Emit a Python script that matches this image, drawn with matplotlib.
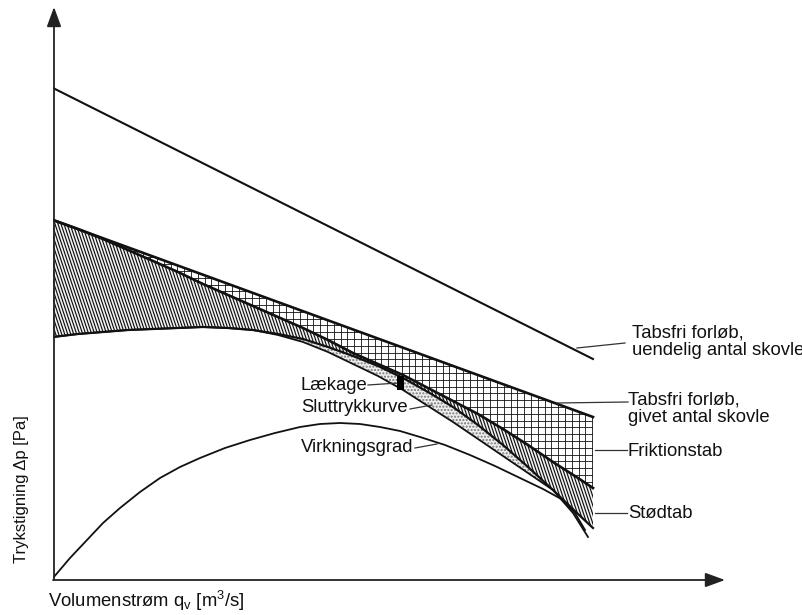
import numpy as np
import matplotlib
matplotlib.use("Agg")
import matplotlib.pyplot as plt
from matplotlib.collections import LineCollection

plt.rcParams['font.family'] = ['Liberation Sans', 'DejaVu Sans']
plt.rcParams['mathtext.fontset'] = 'custom'
plt.rcParams['mathtext.rm'] = 'Liberation Sans'
plt.rcParams['mathtext.it'] = 'Liberation Sans:italic'

# ---- data (schematic units: flow q_v, pressure rise dp) ----
q_lines = [0, 540]
dp_infinite = [490, 219]     # Tabsfri forløb, uendelig antal skovle
dp_finite = [358, 161]       # Tabsfri forløb, givet antal skovle

q = [0, 25, 50, 75, 100, 125, 150, 175, 200, 225, 250, 275, 300, 325, 350,
     375, 400, 425, 450, 475, 500, 525, 540]
dp_friction = [358, 349, 339, 328, 317, 306, 294, 283, 272, 261, 250, 238, 225,
               214, 203, 190, 177, 164, 149, 133, 116, 100, 90]          # after friction loss
dp_shock = [241, 244, 246, 248, 249, 250, 251, 250, 248, 244, 239, 231, 222,
            212, 200, 186, 171, 153, 133, 111, 88, 64, 50]               # after shock loss

q_final = [0, 25, 50, 75, 100, 125, 150, 175, 200, 225, 250, 275, 300, 325, 350,
           375, 400, 425, 450, 475, 500, 520, 535]
dp_final = [241, 244, 246, 248, 249, 250, 251, 250, 248, 243, 236, 226, 214,
            202, 188, 172, 156, 139, 122, 105, 88, 65, 41]               # Sluttrykkurve

q_eff = [0, 17, 34, 50, 67, 87, 107, 127, 147, 172, 197, 222, 247, 267, 287,
         307, 327, 347, 367, 392, 417, 442, 467, 490, 510, 522, 532]
eff = [0, 20, 38, 55, 70, 86, 100, 111, 120, 130, 138, 145, 151, 154, 155,
       154, 151, 147, 141, 133, 123, 112, 100, 89, 78, 65, 48]          # Virkningsgrad

leak_q, leak_lo, leak_hi = 348, 188, 202   # Lækage marker

# ---- figure ----
fig = plt.figure(figsize=(8.03, 6.15), dpi=100)
ax = fig.add_axes([53 / 803, 37 / 615, 672 / 803, 571 / 615])
ax.set_xlim(0, 672)
ax.set_ylim(0, 571)
ax.axis('off')
ink = '#111111'

# cross-hatched region (friction loss)
cross = ax.fill(q_lines + q[::-1], dp_finite + dp_friction[::-1],
                facecolor='white', edgecolor='none', zorder=1)[0]
segs = [[(x, -50), (x, 600)] for x in np.arange(2, 700, 6.8)]
segs += [[(-50, y), (700, y)] for y in np.arange(1, 600, 6.8)]
lc = LineCollection(segs, colors=ink, linewidths=0.6, zorder=2)
ax.add_collection(lc)
lc.set_clip_path(cross)

# diagonal hatched region (shock loss)
shock = ax.fill(q + q[::-1], dp_friction + dp_shock[::-1],
                facecolor='#f4f4f4', edgecolor='none', zorder=1)[0]
segs = [[(x - 200, 600), (x, 0)] for x in np.arange(0, 900, 3.0)]
lc2 = LineCollection(segs, colors=ink, linewidths=0.85, zorder=2)
ax.add_collection(lc2)
lc2.set_clip_path(shock)

# stippled region (leakage)
i0, i1 = 8, 21
ax.fill(q[i0:i1] + q_final[i0:i1][::-1], dp_shock[i0:i1] + dp_final[i0:i1][::-1],
        facecolor='#eeeeee', edgecolor='#777777', linewidth=0, hatch='.....', zorder=1)

# leakage marker
ax.bar(leak_q, leak_hi - leak_lo, bottom=leak_lo, width=7, color='black', zorder=4)

# curves
ax.plot(q_lines, dp_infinite, color=ink, lw=1.5, zorder=3)
ax.plot(q_lines, dp_finite, color=ink, lw=1.9, zorder=3)
ax.plot(q, dp_friction, color=ink, lw=1.9, zorder=3)
ax.plot(q, dp_shock, color=ink, lw=1.6, zorder=3)
ax.plot(q_final, dp_final, color=ink, lw=1.3, zorder=3)
ax.plot(q_eff, eff, color=ink, lw=1.3, zorder=3)

# axes arrows
arr = dict(arrowstyle='-|>,head_length=0.6,head_width=0.22', lw=1.3, color='#222222',
           shrinkA=0, shrinkB=0, mutation_scale=20)
ax.annotate('', xy=(1, 571), xytext=(1, -2), arrowprops=arr, annotation_clip=False)
ax.annotate('', xy=(672, -2), xytext=(0, -2), arrowprops=arr, annotation_clip=False)

# leader lines and labels
fs = 13.3
leaders = [((524, 230), (572, 235)), ((504, 175), (575, 176)), ((542, 128), (574, 128)),
           ((542, 65), (574, 65)), ((315, 193), (345, 195)), ((357, 169), (379, 173)),
           ((362, 130), (384, 134))]
for (x0, y0), (x1, y1) in leaders:
    ax.plot([x0, x1], [y0, y1], color='#333333', lw=0.9, zorder=3, clip_on=False)

ax.text(579, 236.5, 'Tabsfri forløb,\nuendelig antal skovle', ha='left', va='center',
        fontsize=fs, linespacing=1.05, color=ink)
ax.text(575, 169.5, 'Tabsfri forløb,\ngivet antal skovle', ha='left', va='center',
        fontsize=fs, linespacing=1.05, color=ink)
ax.text(575, 127, 'Friktionstab', ha='left', va='center', fontsize=fs, color=ink)
ax.text(575, 65, 'Stødtab', ha='left', va='center', fontsize=fs, color=ink)
ax.text(314, 193, 'Lækage', ha='right', va='center', fontsize=fs, color=ink)
ax.text(355, 170, 'Sluttrykkurve', ha='right', va='center', fontsize=fs, color=ink)
ax.text(360, 130, 'Virkningsgrad', ha='right', va='center', fontsize=fs, color=ink)

fig.text(22 / 803, (615 - 489) / 615, 'Trykstigning Δp [Pa]', rotation=90,
         ha='center', va='center', fontsize=12, color=ink)
fig.text(48 / 803, (615 - 601) / 615, r'Volumenstrøm q$_\mathregular{v}$ [m$^\mathregular{3}$/s]',
         ha='left', va='center', fontsize=13.3, color=ink)

fig.savefig('out.png', dpi=100)
